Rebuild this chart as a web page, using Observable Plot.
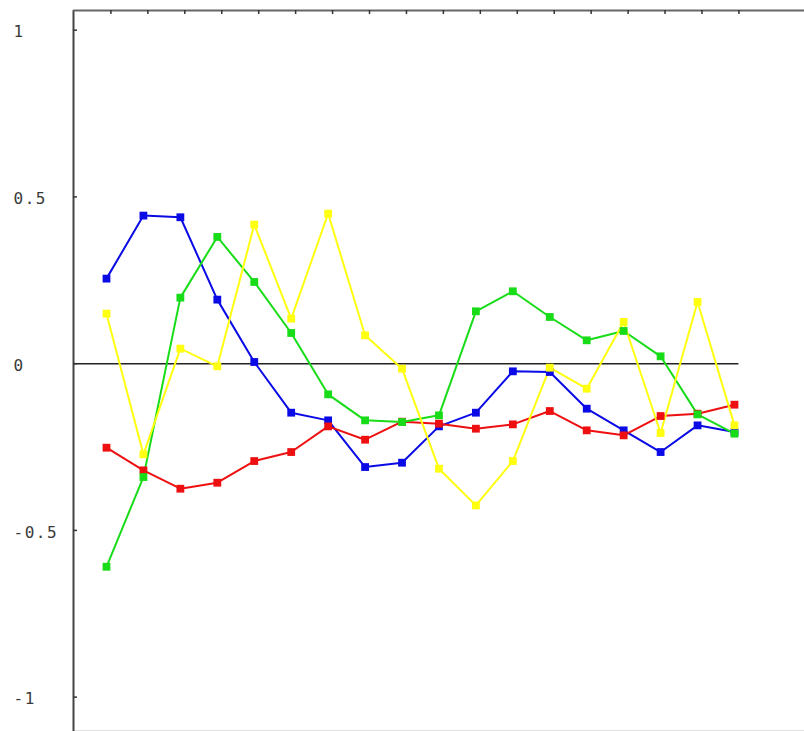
<!DOCTYPE html>
<html>
<head>
<meta charset="utf-8">
<script src="https://cdn.jsdelivr.net/npm/d3@7"></script>
<script src="https://cdn.jsdelivr.net/npm/@observablehq/plot@0.6"></script>
<style>
  html, body { margin: 0; padding: 0; background: #fff; }
  #chart svg { display: block; }
</style>
</head>
<body>
<div id="chart"></div>
<script>
// Data (18 points per series)
const index = d3.range(18);
const blue   = [0.255, 0.444, 0.439, 0.192, 0.005, -0.147, -0.17, -0.31, -0.297, -0.188, -0.147, -0.023, -0.025, -0.135, -0.2, -0.265, -0.185, -0.205];
const red    = [-0.252, -0.32, -0.375, -0.357, -0.292, -0.265, -0.188, -0.228, -0.174, -0.18, -0.195, -0.182, -0.142, -0.2, -0.215, -0.157, -0.15, -0.123];
const green  = [-0.609, -0.34, 0.198, 0.38, 0.245, 0.092, -0.092, -0.17, -0.175, -0.155, 0.157, 0.217, 0.14, 0.07, 0.098, 0.022, -0.152, -0.21];
const yellow = [0.15, -0.272, 0.045, -0.008, 0.417, 0.135, 0.45, 0.085, -0.015, -0.315, -0.425, -0.292, -0.012, -0.075, 0.125, -0.208, 0.185, -0.185];

const seriesNames = ["blue", "red", "green", "yellow"];
const seriesColors = ["#0a0ae6", "#ee1010", "#18dc18", "#ffff10"];
const seriesValues = [blue, red, green, yellow];

const yTickValues = [1, 0.5, 0, -0.5, -1];
const yTickLabels = ["1", "0.5", "0", "-0.5", "-1"];
const topTickValues = index.map(i => i + 0.12);

const xDomain = [-0.893, 18.895];
const yDomain = [-1.103, 1.059];

const rows = [];
seriesNames.forEach((name, s) => {
  seriesValues[s].forEach((v, i) => rows.push({series: name, i, v}));
});
const yLabelRows = yTickValues.map((v, k) => ({v, label: yTickLabels[k]}));

const W = 804, H = 731, ML = 73, MT = 10, TICK = 4;

const chart = Plot.plot({
  width: W,
  height: H,
  marginLeft: ML,
  marginRight: 0,
  marginTop: MT,
  marginBottom: 0,
  style: {background: "#fff", overflow: "visible"},
  x: {type: "linear", domain: xDomain, axis: null, label: null},
  y: {type: "linear", domain: yDomain, axis: null, label: null},
  marks: [
    // bottom faint border
    Plot.ruleY([-1.1], {stroke: "#e2e2e2", strokeWidth: 1}),
    // zero line
    Plot.ruleY([0], {x1: xDomain[0], x2: topTickValues[topTickValues.length - 1], stroke: "#222", strokeWidth: 1.5}),
    // series lines and markers
    ...seriesNames.map((name, s) => Plot.line(rows.filter(d => d.series === name), {x: "i", y: "v", stroke: seriesColors[s], strokeWidth: 2})),
    ...seriesNames.map((name, s) => Plot.dot(rows.filter(d => d.series === name), {x: "i", y: "v", symbol: "square", r: 4.4, fill: seriesColors[s], stroke: "none"})),
    // frame: left and top
    Plot.ruleX([xDomain[0]], {stroke: "#444", strokeWidth: 2}),
    Plot.ruleY([yDomain[1]], {stroke: "#666", strokeWidth: 2}),
    // inward ticks
    Plot.ruleY(yTickValues, {insetRight: W - ML - TICK, stroke: "#333", strokeWidth: 1.5}),
    Plot.ruleX(topTickValues, {insetBottom: H - MT - TICK, stroke: "#333", strokeWidth: 1.5}),
    // y labels
    Plot.text(yLabelRows, {y: "v", text: "label", frameAnchor: "left", dx: -60, dy: 2, textAnchor: "start",
      fontFamily: "DejaVu Sans Mono", fontSize: 16, fill: "#3a3a3a", style: "letter-spacing:1.5px"})
  ]
});
chart.querySelectorAll("text").forEach(t => t.style.letterSpacing = "1.5px");
document.getElementById("chart").appendChild(chart);
</script>
</body>
</html>
